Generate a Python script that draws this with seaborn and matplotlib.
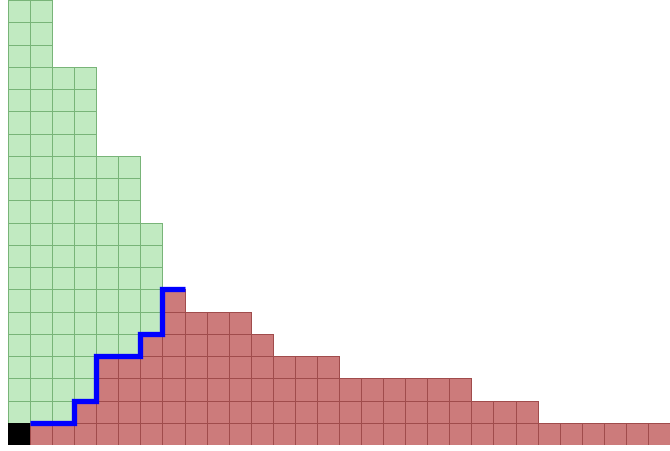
import numpy as np
import matplotlib
matplotlib.use("Agg")
import matplotlib.pyplot as plt
import seaborn as sns
from matplotlib.colors import ListedColormap, to_rgba

# Data
n_cols = 30
n_rows = 20
green_top = [20, 20, 17, 17, 13, 13, 10]          # top of green region per column (cols 0..6)
red_heights = [0, 1, 1, 2, 4, 4, 5, 7, 6, 6, 6, 5, 4, 4, 4,
               3, 3, 3, 3, 3, 3, 2, 2, 2, 1, 1, 1, 1, 1, 1]
black_cell = (0, 0)                                # (column, row)
path_cols = [1, 2, 3, 4, 5, 6, 7]                  # columns traced by the blue staircase

green = np.zeros((n_rows, n_cols))
red = np.zeros((n_rows, n_cols))
black = np.zeros((n_rows, n_cols))
for c, h in enumerate(red_heights):
    red[:h, c] = 1
for c, top in enumerate(green_top):
    start = max(red_heights[c], 1)
    green[start:top, c] = 1
black[black_cell[1], black_cell[0]] = 1

fig = plt.figure(figsize=(6.7, 4.51), dpi=100)
ax = fig.add_axes([8 / 670, 6 / 451, 662 / 670, 445 / 451])


def layer(mat, face, edge, lw):
    sns.heatmap(mat, mask=mat == 0, cmap=ListedColormap([face]), cbar=False,
                linewidths=lw, linecolor=edge, ax=ax)
    mesh = ax.collections[-1]
    ec = np.zeros((mat.size, 4))
    ec[mat.ravel() == 1] = to_rgba(edge)
    mesh.set_edgecolor(ec)


layer(green, "#c1eac1", "#78b478", 0.6)
layer(red, "#cc7b7b", "#a04c4c", 0.6)
layer(black, "#000000", "#000000", 0.0)

# Blue staircase along the top of the red region in columns 1..7
xs, ys = [], []
for c in path_cols:
    h = red_heights[c]
    xs += [c, c + 1]
    ys += [h, h]
ax.plot(xs, ys, color="#0000ff", lw=3.8, solid_capstyle="butt", solid_joinstyle="miter")

ax.set_xlim(0, n_cols)
ax.set_ylim(0, n_rows)
ax.axis("off")

fig.savefig("out.png", dpi=100)
